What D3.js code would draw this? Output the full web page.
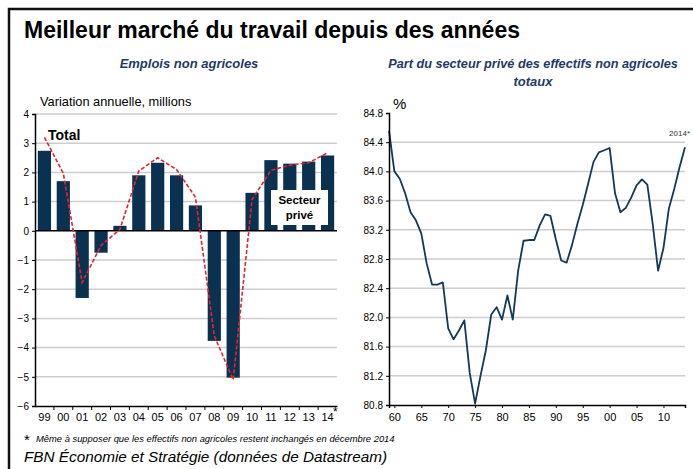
<!DOCTYPE html>
<html>
<head>
<meta charset="utf-8">
<script src="https://cdn.jsdelivr.net/npm/d3@7"></script>
<style>
  body { margin: 0; background: #fff; }
  svg { display: block; }
  .narrow { font-family: "Liberation Sans Narrow", "Liberation Sans", Arial, sans-serif; }
</style>
</head>
<body>
<svg id="chart" width="693" height="469"></svg>
<script>
'use strict';

// left panel: annual change, millions
const years = ['99', '00', '01', '02', '03', '04', '05', '06', '07', '08', '09', '10', '11', '12', '13', '14'];
const privateSector = [2.74, 1.7, -2.3, -0.75, 0.17, 1.9, 2.33, 1.9, 0.87, -3.77, -5.03, 1.3, 2.42, 2.3, 2.37, 2.58];
const totalJobs = [3.2, 1.97, -1.77, -0.5, 0.05, 2.05, 2.5, 2.1, 1.15, -3.6, -5.1, 1.07, 2.07, 2.25, 2.33, 2.67];
const leftTicks = [4, 3, 2, 1, 0, -1, -2, -3, -4, -5, -6];

// right panel: private share of nonfarm payrolls, %
const shareYears = [];
for (let y = 1959; y <= 2014; y++) shareYears.push(y);
const shareValues = [
  84.56, 84.0, 83.9, 83.7, 83.44, 83.33, 83.15, 82.74, 82.45, 82.45,
  82.48, 81.85, 81.7, 81.82, 81.96, 81.24, 80.82, 81.2, 81.55, 82.04,
  82.14, 81.97, 82.3, 81.97, 82.64, 83.05, 83.06, 83.06, 83.26, 83.41,
  83.39, 83.07, 82.78, 82.75, 82.99, 83.28, 83.54, 83.83, 84.13, 84.26,
  84.29, 84.32, 83.7, 83.44, 83.5, 83.64, 83.81, 83.89, 83.82, 83.28,
  82.64, 82.95, 83.49, 83.76, 84.06, 84.33
];
const rightTicks = [84.8, 84.4, 84.0, 83.6, 83.2, 82.8, 82.4, 82.0, 81.6, 81.2, 80.8];
const rightYearTicks = [1960, 1965, 1970, 1975, 1980, 1985, 1990, 1995, 2000, 2005, 2010];

const svg = d3.select('#chart');
const navy = '#0b3150';
const grid = '#cdcdcd';

// frame
svg.append('path')
  .attr('d', 'M9,469 V9 H693')
  .attr('fill', 'none')
  .attr('stroke', '#111')
  .attr('stroke-width', 2.5);

svg.append('text')
  .attr('x', 24).attr('y', 38)
  .attr('font-family', 'Liberation Sans, Arial, sans-serif')
  .attr('font-weight', 'bold')
  .attr('font-size', 23)
  .text('Meilleur marché du travail depuis des années');

let subStyle = (sel) => sel
  .attr('font-family', 'Liberation Sans Narrow, Liberation Sans, Arial, sans-serif')
  .attr('font-weight', 'bold')
  .attr('font-style', 'italic')
  .attr('font-size', 13)
  .attr('fill', '#1f3a64')
  .attr('text-anchor', 'middle');

svg.append('text').attr('x', 189).attr('y', 68).call(subStyle).text('Emplois non agricoles');
svg.append('text').attr('x', 533).attr('y', 68).call(subStyle).attr('font-size', 12.7).text('Part du secteur privé des effectifs non agricoles');
svg.append('text').attr('x', 533).attr('y', 86).call(subStyle).text('totaux');

// ---------- left chart ----------
const x = d3.scaleBand()
  .domain(years)
  .range([35, 337])
  .paddingInner(0.3)
  .paddingOuter(0.15);

const y = d3.scaleLinear()
  .domain([-6, 4])
  .range([406, 114]);

const left = svg.append('g');

left.selectAll('.grid')
  .data(leftTicks.filter(d => d !== -6 && d !== 0))
  .enter().append('line')
    .attr('x1', 35).attr('x2', 337)
    .attr('y1', d => y(d)).attr('y2', d => y(d))
    .attr('stroke', grid)
    .attr('stroke-width', 1.5);

left.selectAll('rect')
  .data(privateSector)
  .enter().append('rect')
    .attr('x', (d, i) => x(years[i]))
    .attr('width', x.bandwidth())
    .attr('y', d => y(Math.max(0, d)))
    .attr('height', d => Math.abs(y(d) - y(0)))
    .attr('fill', navy);

left.append('line')
  .attr('x1', 35).attr('x2', 337)
  .attr('y1', y(0)).attr('y2', y(0))
  .attr('stroke', '#000')
  .attr('stroke-width', 1.5);

let totalLine = d3.line()
  .x((d, i) => x(years[i]) + x.bandwidth() / 2)
  .y(d => y(d));

left.append('path')
  .datum(totalJobs)
  .attr('d', totalLine)
  .attr('fill', 'none')
  .attr('stroke', '#e8232c')
  .attr('stroke-width', 1.6)
  .attr('stroke-dasharray', '4,2');

// y axis
let yAxisL = d3.axisLeft(y).tickValues(leftTicks).tickSize(3).tickFormat(d3.format('d'));
left.append('g')
  .attr('class', 'narrow')
  .attr('transform', 'translate(35,0)')
  .call(yAxisL)
  .call(g => g.select('.domain').attr('stroke-width', 1.5))
  .call(g => g.selectAll('text').attr('font-size', 10).attr('font-family', null));

// x axis: labels centred, ticks on band edges
let xAxisL = d3.axisBottom(x).tickSize(0).tickPadding(7);
left.append('g')
  .attr('class', 'narrow')
  .attr('transform', 'translate(0,406)')
  .call(xAxisL)
  .call(g => g.select('.domain').attr('stroke-width', 1.5))
  .call(g => g.selectAll('text').attr('font-size', 11).attr('font-family', null));

left.selectAll('.edge')
  .data(years.slice(1))
  .enter().append('line')
    .attr('x1', d => x(d) - x.step() * x.paddingInner() / 2)
    .attr('x2', d => x(d) - x.step() * x.paddingInner() / 2)
    .attr('y1', 406).attr('y2', 410)
    .attr('stroke', '#000');

left.append('text')
  .attr('x', 333).attr('y', 416)
  .attr('font-size', 12)
  .attr('font-family', 'Liberation Sans, Arial, sans-serif')
  .text('*');

left.append('text')
  .attr('class', 'narrow')
  .attr('x', 40).attr('y', 106)
  .attr('font-size', 12.8)
  .text('Variation annuelle, millions');

left.append('text')
  .attr('x', 48).attr('y', 140)
  .attr('font-family', 'Liberation Sans Narrow, Liberation Sans, Arial, sans-serif')
  .attr('font-weight', 'bold')
  .attr('font-size', 14)
  .text('Total');

left.append('rect')
  .attr('x', 271).attr('y', 190)
  .attr('width', 57).attr('height', 35)
  .attr('fill', '#fff');

left.selectAll('.box')
  .data(['Secteur', 'privé'])
  .enter().append('text')
    .attr('x', 299.5)
    .attr('y', (d, i) => 204 + i * 15)
    .attr('text-anchor', 'middle')
    .attr('font-family', 'Liberation Sans, Arial, sans-serif')
    .attr('font-weight', 'bold')
    .attr('font-size', 11.5)
    .text(d => d);

// ---------- right chart ----------
const x2 = d3.scaleLinear()
  .domain([1959, 2014])
  .range([389, 685]);

const y2 = d3.scaleLinear()
  .domain([80.8, 84.8])
  .range([405, 113]);

const right = svg.append('g');

right.selectAll('.grid')
  .data(rightTicks.filter(d => d !== 80.8 && d !== 84.8))
  .enter().append('line')
    .attr('x1', 389).attr('x2', 685)
    .attr('y1', d => y2(d)).attr('y2', d => y2(d))
    .attr('stroke', grid)
    .attr('stroke-width', 1.5);

let shareLine = d3.line()
  .x((d, i) => x2(shareYears[i]))
  .y(d => y2(d));

right.append('path')
  .datum(shareValues)
  .attr('d', shareLine)
  .attr('fill', 'none')
  .attr('stroke', '#12385a')
  .attr('stroke-width', 1.8)
  .attr('stroke-linejoin', 'round');

let yAxisR = d3.axisLeft(y2).tickValues(rightTicks).tickSize(3).tickFormat(d3.format('.1f'));
right.append('g')
  .attr('class', 'narrow')
  .attr('transform', 'translate(389,0)')
  .call(yAxisR)
  .call(g => g.select('.domain').attr('stroke-width', 1.5))
  .call(g => g.selectAll('text').attr('font-size', 10).attr('font-family', null));

let xAxisR = d3.axisBottom(x2)
  .tickValues(rightYearTicks)
  .tickSize(3)
  .tickPadding(5)
  .tickFormat(d => String(d % 100).padStart(2, '0'));
right.append('g')
  .attr('class', 'narrow')
  .attr('transform', 'translate(0,405)')
  .call(xAxisR)
  .call(g => g.select('.domain').attr('stroke-width', 1.5))
  .call(g => g.selectAll('text').attr('font-size', 11).attr('font-family', null));

right.append('text')
  .attr('class', 'narrow')
  .attr('x', 393).attr('y', 109)
  .attr('font-size', 15)
  .text('%');

right.append('text')
  .attr('x', 690).attr('y', 136)
  .attr('text-anchor', 'end')
  .attr('font-family', 'Liberation Sans, Arial, sans-serif')
  .attr('font-size', 8)
  .attr('fill', '#333')
  .text('2014*');

// ---------- notes ----------
svg.append('text')
  .attr('x', 24).attr('y', 445)
  .attr('font-family', 'Liberation Sans, Arial, sans-serif')
  .attr('font-size', 15)
  .text('*');

svg.append('text')
  .attr('x', 36).attr('y', 442)
  .attr('font-family', 'Liberation Sans, Arial, sans-serif')
  .attr('font-style', 'italic')
  .attr('font-size', 9.4)
  .text('Même à supposer que les effectifs non agricoles restent inchangés en décembre 2014');

svg.append('text')
  .attr('x', 24).attr('y', 462)
  .attr('font-family', 'Liberation Sans, Arial, sans-serif')
  .attr('font-style', 'italic')
  .attr('font-size', 15.3)
  .text('FBN Économie et Stratégie (données de Datastream)');
</script>
</body>
</html>
